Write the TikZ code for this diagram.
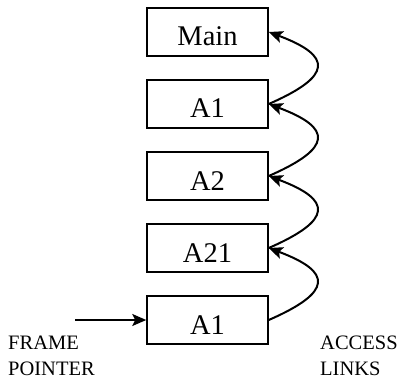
\documentclass[tikz,border=0pt]{standalone}
\usepackage{fontspec}
\setmainfont{Liberation Serif}
\usetikzlibrary{arrows.meta}
\tikzset{
  frame/.style={draw, line width=1.5pt, minimum width=121pt, minimum height=48pt, inner sep=0pt},
  lbl/.style={font=\fontsize{28.5}{28.5}\selectfont, anchor=base, inner sep=0pt},
  side/.style={font=\fontsize{20.5}{20.5}\selectfont, anchor=base west, inner sep=0pt},
  link/.style={line width=2pt, -{Stealth[length=14pt,width=12pt,inset=3pt]}},
}
\begin{document}
\begin{tikzpicture}[x=1pt,y=1pt]
\useasboundingbox (0,0) rectangle (401,378);
\node[frame] (b1) at (207.5,346) {};
\node[frame] (b2) at (207.5,274) {};
\node[frame] (b3) at (207.5,202) {};
\node[frame] (b4) at (207.5,130) {};
\node[frame] (b5) at (207.5,58) {};
\node[lbl] (t1) at (207.5,332) {Main};
\node[lbl] (t2) at (207.5,260) {A1};
\node[lbl] (t3) at (207.5,188) {A2};
\node[lbl] (t4) at (207.5,116) {A21};
\node[lbl] (t5) at (207.5,44) {A1};
\draw[link] (b2.east) .. controls +(64,28) and +(64,-24) .. (b1.east);
\draw[link] (b3.east) .. controls +(64,28) and +(64,-24) .. (b2.east);
\draw[link] (b4.east) .. controls +(64,28) and +(64,-24) .. (b3.east);
\draw[link] (b5.east) .. controls +(64,28) and +(64,-24) .. (b4.east);
\coordinate (fp) at (75,58);
\draw[link] (fp) -- (b5.west);
\node[side] (f1) at (8,29) {FRAME};
\node[side] (f2) at (8,3) {POINTER};
\node[side] (a1) at (320,29) {ACCESS};
\node[side] (a2) at (320,3) {LINKS};
\end{tikzpicture}
\end{document}
